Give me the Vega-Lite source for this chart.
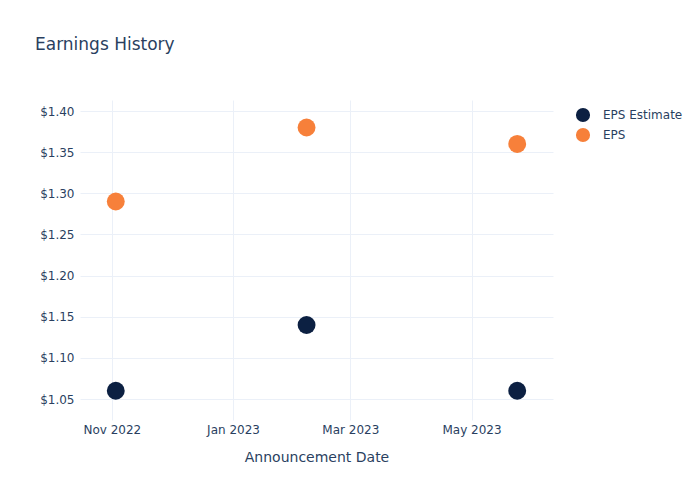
{
  "$schema": "https://vega.github.io/schema/vega-lite/v6.json",
  "width": 473,
  "height": 320,
  "autosize": {"type": "none"},
  "padding": {"left": 80, "top": 100, "right": 147, "bottom": 80},
  "background": "white",
  "title": {
    "text": "Earnings History",
    "anchor": "start",
    "frame": "group",
    "dx": -45,
    "offset": 46,
    "fontSize": 17,
    "font": "DejaVu Sans",
    "fontWeight": "normal",
    "color": "#2a3f5f"
  },
  "data": {
    "values": [
      {"date": "2022-11-03", "series": "EPS Estimate", "value": 1.06},
      {"date": "2023-02-07", "series": "EPS Estimate", "value": 1.14},
      {"date": "2023-05-24", "series": "EPS Estimate", "value": 1.06},
      {"date": "2022-11-03", "series": "EPS", "value": 1.29},
      {"date": "2023-02-07", "series": "EPS", "value": 1.38},
      {"date": "2023-05-24", "series": "EPS", "value": 1.36}
    ]
  },
  "mark": {"type": "circle", "size": 320, "opacity": 1},
  "encoding": {
    "x": {
      "field": "date",
      "type": "temporal",
      "scale": {"type": "utc", "domain": ["2022-10-16", "2023-06-11"]},
      "axis": {
        "title": "Announcement Date",
        "labelExpr": "utcFormat(datum.value, '%b %Y')",
        "values": ["2022-11-01", "2023-01-01", "2023-03-01", "2023-05-01"],
        "labelFont": "DejaVu Sans",
        "labelFontSize": 12,
        "labelColor": "#2a3f5f",
        "labelPadding": 4,
        "titleFont": "DejaVu Sans",
        "titleFontSize": 14,
        "titleFontWeight": "normal",
        "titleColor": "#2a3f5f",
        "titlePadding": 15,
        "domain": false,
        "ticks": false,
        "grid": true,
        "gridColor": "#EBF0F8",
        "gridWidth": 1
      }
    },
    "y": {
      "field": "value",
      "type": "quantitative",
      "scale": {"domain": [1.0245, 1.4134], "nice": false, "zero": false},
      "axis": {
        "title": null,
        "format": "$.2f",
        "values": [1.05, 1.1, 1.15, 1.2, 1.25, 1.3, 1.35, 1.4],
        "labelFont": "DejaVu Sans",
        "labelFontSize": 12,
        "labelColor": "#2a3f5f",
        "labelPadding": 6,
        "domain": false,
        "ticks": false,
        "grid": true,
        "gridColor": "#EBF0F8",
        "gridWidth": 1
      }
    },
    "color": {
      "field": "series",
      "type": "nominal",
      "scale": {"domain": ["EPS Estimate", "EPS"], "range": ["#0c2042", "#f7803a"]},
      "legend": {
        "title": null,
        "orient": "none",
        "legendX": 495,
        "legendY": 7,
        "symbolType": "circle",
        "symbolSize": 200,
        "symbolOpacity": 1,
        "labelFont": "DejaVu Sans",
        "labelFontSize": 12,
        "labelColor": "#2a3f5f",
        "labelOffset": 12,
        "rowPadding": 4
      }
    }
  },
  "config": {"view": {"stroke": null}}
}
